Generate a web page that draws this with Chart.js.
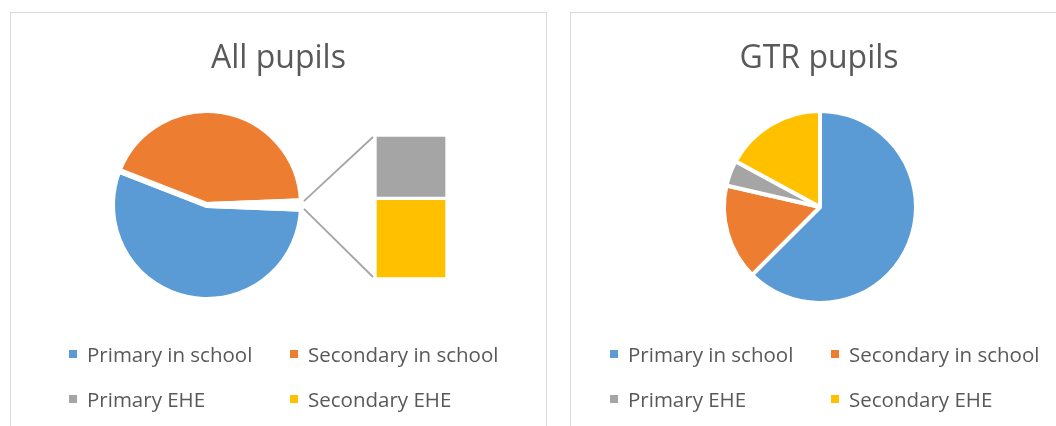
<!DOCTYPE html>
<html>
<head>
<meta charset="utf-8">
<script src="https://cdn.jsdelivr.net/npm/chart.js@4"></script>
<style>
    body { margin: 0; background: #ffffff; width: 1056px; height: 426px; overflow: hidden; position: relative; }
    .panel { position: absolute; box-sizing: border-box; border: 1px solid #d9d9d9; }
    canvas { position: absolute; }
    .title { position: absolute; text-align: center; font-family: "Open Sans", sans-serif; font-size: 32px; line-height: 32px; color: #595959; }
    .legend { position: absolute; font-family: "Open Sans", sans-serif; font-size: 20.5px; line-height: 24px; color: #595959; }
    .legend .item { position: absolute; display: flex; align-items: center; height: 24px; white-space: nowrap; }
    .legend .box { width: 8px; height: 8px; margin-right: 10px; }
</style>
</head>
<body>
<div class="panel" style="left:10px;top:12px;width:537px;height:430px"></div>
<div class="panel" style="left:570px;top:12px;width:500px;height:430px"></div>

<canvas id="allPie" width="535" height="413" style="left:11px;top:13px"></canvas>
<canvas id="eheBar" width="72" height="144" style="left:375px;top:135px"></canvas>
<canvas id="gtrPie" width="485" height="413" style="left:571px;top:13px"></canvas>

<div class="title" style="left:10px;top:40px;width:537px">All pupils</div>
<div class="title" style="left:570px;top:40px;width:498px">GTR pupils</div>
<div class="legend" id="allLegend" style="left:69px;top:342px"></div>
<div class="legend" id="gtrLegend" style="left:610px;top:342px"></div>

<script>
    const categories = ["Primary in school", "Secondary in school", "Primary EHE", "Secondary EHE"];
    const colours = ["#5b9bd5", "#ed7d31", "#a5a5a5", "#ffc000"];

    // share of pupils (%)
    const allPupils = [55.3, 43.45, 0.55, 0.7];
    const gtrPupils = [62.5, 16.1, 4.3, 17.1];

    // the two EHE groups go into the "other" slice and the bar next to it
    const otherLabel = "EHE";

    /*
     * Stacked bar for the EHE split */
    const ehe = allPupils.slice(2);
    const eheTotal = ehe.reduce((a, b) => a + b, 0);
    const barCanvas = document.getElementById("eheBar");

    const barChart = new Chart(barCanvas, {
        type: "bar",
        data: {
            labels: [otherLabel],
            datasets: ehe.map((v, i) => ({
                label: categories[i + 2],
                data: [v],
                backgroundColor: colours[i + 2],
                borderColor: "#ffffff",
                borderWidth: 2,
                borderSkipped: false,
                categoryPercentage: 1,
                barPercentage: 1,
            })),
        },
        options: {
            responsive: false,
            animation: false,
            layout: { padding: 0 },
            plugins: { legend: { display: false }, tooltip: { enabled: false } },
            scales: {
                x: { stacked: true, display: false },
                y: { stacked: true, display: false, reverse: true, min: 0, max: eheTotal },
            },
        },
    });

    /*
     * Lines from the small slice to the bar */
    const connectorLines = {
        id: "connectorLines",
        afterDatasetsDraw(chart) {
            const arc = chart.getDatasetMeta(0).data[2];
            const top = barChart.getDatasetMeta(0).data[0];
            const bottom = barChart.getDatasetMeta(1).data[0];
            const dx = barCanvas.offsetLeft - chart.canvas.offsetLeft;
            const dy = barCanvas.offsetTop - chart.canvas.offsetTop;
            const r = arc.outerRadius + 2;
            const barLeft = dx + top.x - top.width / 2 - 2;
            const barTop = dy + Math.min(top.y, top.base) + 2;
            const barBottom = dy + Math.max(bottom.y, bottom.base) - 2;
            const ctx = chart.ctx;

            ctx.save();
            ctx.strokeStyle = "#a5a5a5";
            ctx.lineWidth = 1.8;
            ctx.beginPath();
            ctx.moveTo(arc.x + r * Math.cos(arc.startAngle), arc.y + r * Math.sin(arc.startAngle));
            ctx.lineTo(barLeft, barTop);
            ctx.moveTo(arc.x + r * Math.cos(arc.endAngle), arc.y + r * Math.sin(arc.endAngle));
            ctx.lineTo(barLeft, barBottom);
            ctx.stroke();
            ctx.restore();
        },
    };

    /*
     * All pupils pie (bar of pie) */
    const allTotal = allPupils.reduce((a, b) => a + b, 0);
    new Chart(document.getElementById("allPie"), {
        type: "pie",
        data: {
            labels: [categories[0], categories[1], otherLabel],
            datasets: [
                {
                    data: [allPupils[0], allPupils[1], eheTotal],
                    backgroundColor: [colours[0], colours[1], "#ffffff"],
                    borderColor: "#ffffff",
                    borderWidth: 6,
                    radius: 95,
                },
            ],
        },
        options: {
            responsive: false,
            animation: false,
            // other slice sits centred at 3 o'clock
            rotation: 90 + (eheTotal / allTotal) * 180,
            layout: { padding: { left: 0, right: 143, top: 0, bottom: 29 } },
            plugins: { legend: { display: false }, tooltip: { enabled: false } },
        },
        plugins: [connectorLines],
    });

    /*
     * GTR pupils pie */
    new Chart(document.getElementById("gtrPie"), {
        type: "pie",
        data: {
            labels: categories,
            datasets: [
                {
                    data: gtrPupils,
                    backgroundColor: colours,
                    borderColor: "#ffffff",
                    borderWidth: 4,
                    radius: 96,
                },
            ],
        },
        options: {
            responsive: false,
            animation: false,
            layout: { padding: { left: 13, right: 0, top: 0, bottom: 25 } },
            plugins: { legend: { display: false }, tooltip: { enabled: false } },
        },
    });

    /*
     * Legends, two columns like the original */
    const buildLegend = (id) => {
        const el = document.getElementById(id);
        categories.forEach((label, i) => {
            const item = document.createElement("div");
            item.className = "item";
            item.style.left = (i % 2) * 221 + "px";
            item.style.top = Math.floor(i / 2) * 45 + "px";
            item.innerHTML = '<span class="box" style="background:' + colours[i] + '"></span>' + label;
            el.appendChild(item);
        });
    };
    buildLegend("allLegend");
    buildLegend("gtrLegend");
</script>
</body>
</html>
